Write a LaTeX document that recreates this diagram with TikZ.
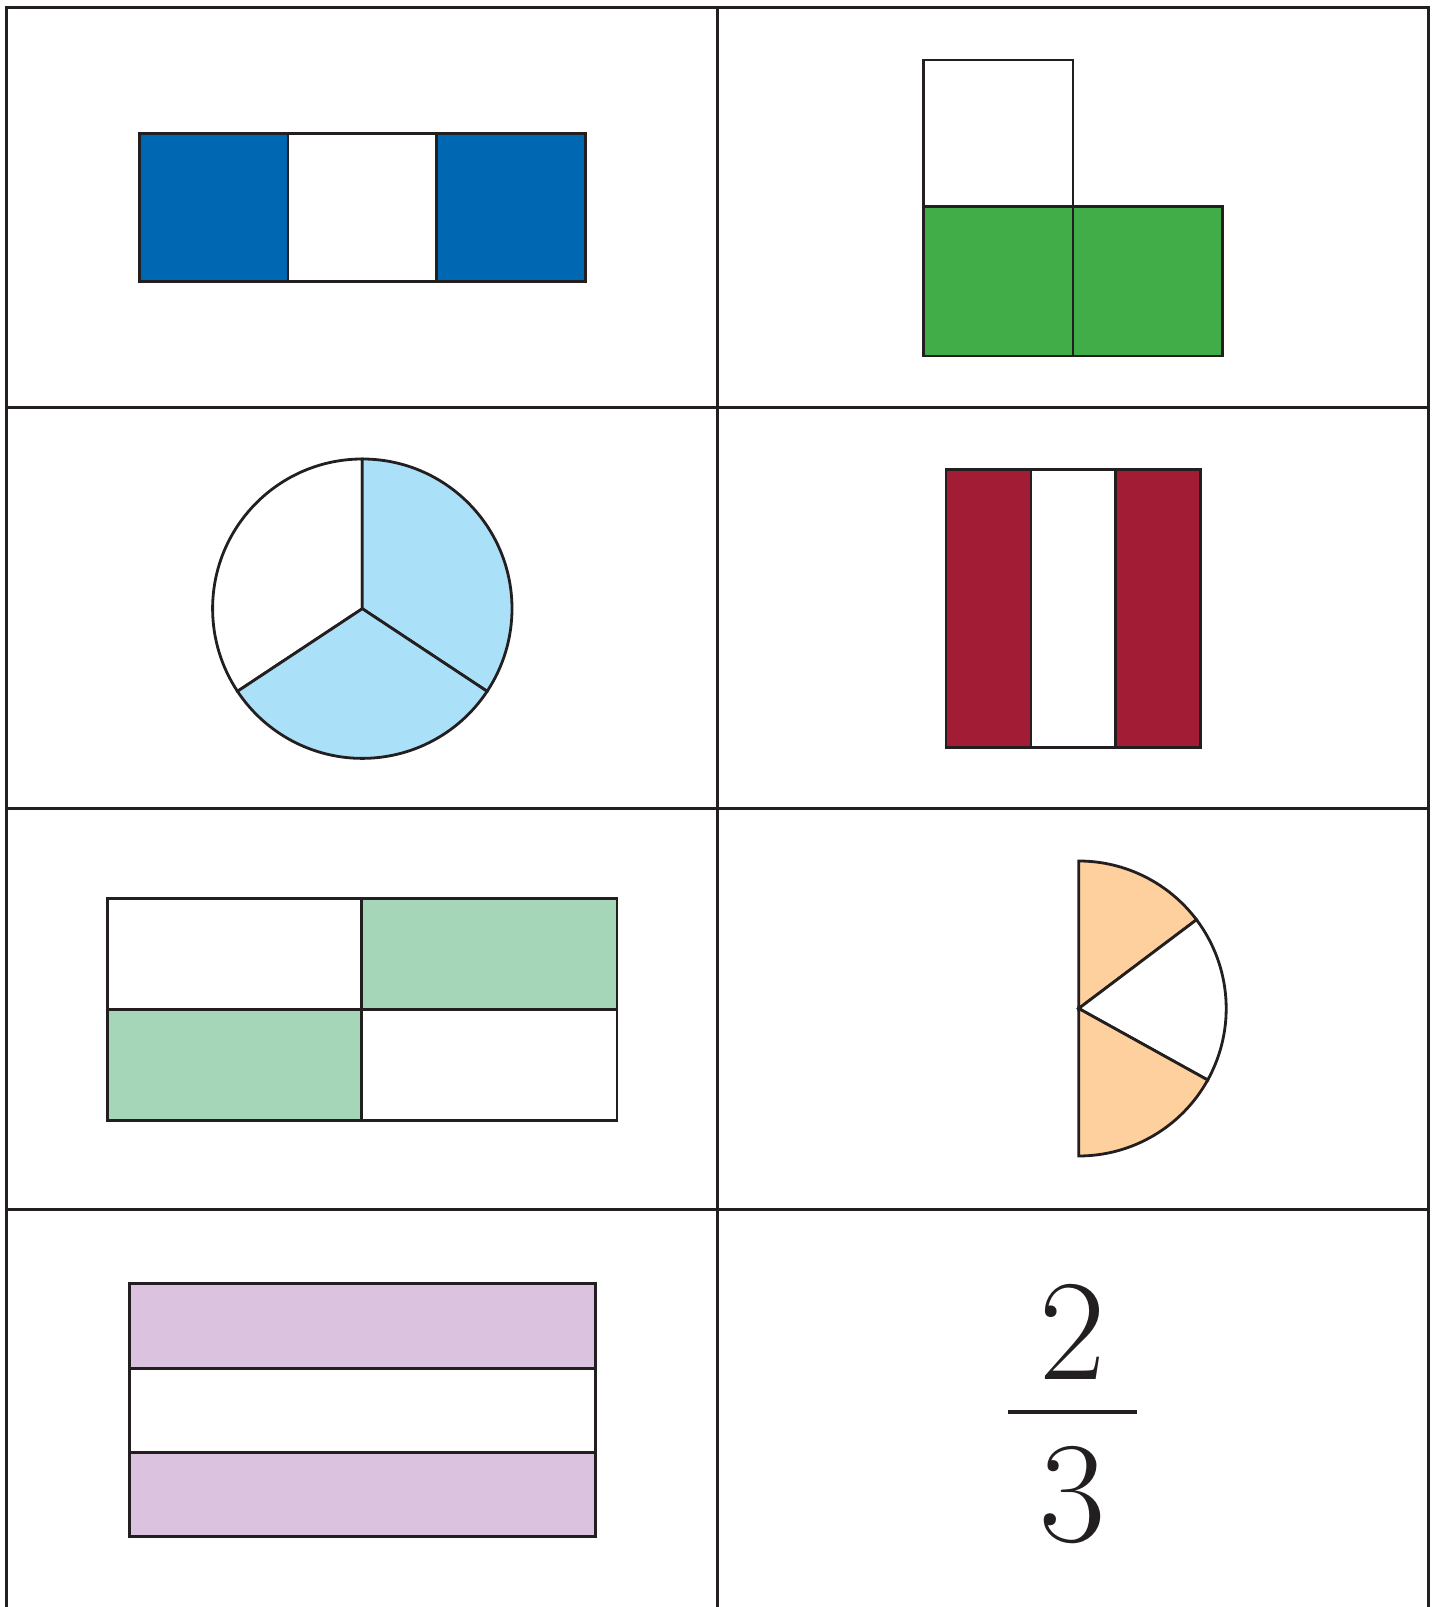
\documentclass[tikz,border=0pt]{standalone}
\definecolor{linec}{HTML}{231F20}
\definecolor{cblue}{HTML}{0067B2}
\definecolor{cgreen}{HTML}{41AD49}
\definecolor{clblue}{HTML}{ABE0F9}
\definecolor{cred}{HTML}{A21C35}
\definecolor{clgreen}{HTML}{A5D6B8}
\definecolor{cpeach}{HTML}{FED09E}
\definecolor{cpurple}{HTML}{DBC2DE}
\tikzset{
  frameline/.style={draw=linec, line width=1.5pt},
  part/.style={draw=linec, line width=1.4pt, line join=miter},
  digit/.style={inner sep=0pt, anchor=base, font=\fontsize{72}{80}\selectfont, text=linec}
}
\begin{document}
\begin{tikzpicture}[x=0.5pt, y=0.5pt]
\useasboundingbox (0,0) rectangle (1439,1607);
% grid
\draw[frameline] (6.7,0) -- (6.7,1599.5) -- (1428.3,1599.5) -- (1428.3,0);
\draw[frameline] (717.7,0) -- (717.7,1599.5);
\draw[frameline] (6.7,1199) -- (1428.3,1199);
\draw[frameline] (6.7,798.4) -- (1428.3,798.4);
\draw[frameline] (6.7,397.7) -- (1428.3,397.7);
% blue bar
\draw[part, fill=cblue] (139.2,1325.1) rectangle (287.9,1473.8);
\draw[part, fill=white] (287.9,1325.1) rectangle (436.5,1473.8);
\draw[part, fill=cblue] (436.5,1325.1) rectangle (585.2,1473.8);
% green L
\draw[part, fill=white] (923.3,1400.3) rectangle (1073,1547);
\draw[part, fill=cgreen] (923.3,1251) rectangle (1073,1400.3);
\draw[part, fill=cgreen] (1073,1251) rectangle (1222.3,1400.3);
% circle
\coordinate (cc) at (362.3,998.3);
\draw[part, fill=white] (cc) -- ++(90:149.7) arc[start angle=90, end angle=213.5, radius=149.7] -- cycle;
\draw[part, fill=clblue] (cc) -- ++(90:149.7) arc[start angle=90, end angle=-33.5, radius=149.7] -- cycle;
\draw[part, fill=clblue] (cc) -- ++(-33.5:149.7) arc[start angle=-33.5, end angle=-146.5, radius=149.7] -- cycle;
% red stripes
\draw[part, fill=cred] (946,859.8) rectangle (1031,1137.6);
\draw[part, fill=white] (1031,859.8) rectangle (1115.1,1137.6);
\draw[part, fill=cred] (1115.1,859.8) rectangle (1200.2,1137.6);
% light green grid
\draw[part, fill=white] (107.6,597.5) rectangle (361.8,708.2);
\draw[part, fill=clgreen] (361.8,597.5) rectangle (617,708.2);
\draw[part, fill=clgreen] (107.6,486.8) rectangle (361.8,597.5);
\draw[part, fill=white] (361.8,486.8) rectangle (617,597.5);
% half circle
\coordinate (hc) at (1078.7,598.5);
\draw[part, fill=cpeach] (hc) -- ++(90:147.5) arc[start angle=90, end angle=37, radius=147.5] -- cycle;
\draw[part, fill=white] (hc) -- ++(37:147.5) arc[start angle=37, end angle=-29, radius=147.5] -- cycle;
\draw[part, fill=cpeach] (hc) -- ++(-29:147.5) arc[start angle=-29, end angle=-90, radius=147.5] -- cycle;
% purple stripes
\draw[part, fill=cpurple] (129.1,238.8) rectangle (595.5,323.8);
\draw[part, fill=white] (129.1,154.7) rectangle (595.5,238.8);
\draw[part, fill=cpurple] (129.1,70.7) rectangle (595.5,154.7);
% fraction
\node[digit] (num) at (1073,227.7) {2};
\node[digit] (den) at (1073,65.3) {3};
\coordinate (barl) at (1008.3,194.7);
\coordinate (barr) at (1137.3,194.7);
\draw[draw=linec, line width=2pt] (barl) -- (barr);
\end{tikzpicture}
\end{document}
